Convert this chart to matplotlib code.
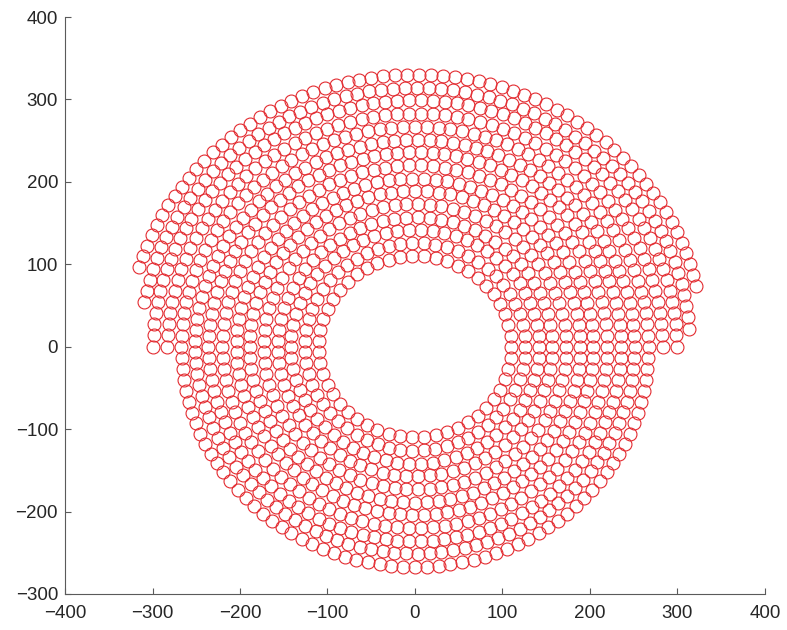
import numpy as np
import matplotlib
matplotlib.use("Agg")
import matplotlib.pyplot as plt

# anillos concentricos de circulos
ring_radius = [110, 126, 142, 157, 173, 189, 204, 220, 236, 251, 267, 283, 299, 314, 330]
ring_count = [51, 59, 66, 73, 81, 88, 95, 102, 110, 117, 124, 66, 70, 67, 64]
ring_start = [0, 0, 0, 0, 0, 0, 0, 0, 0, 0, 0, 0, 0, 4, 13]        # grados
ring_end = [360, 360, 360, 360, 360, 360, 360, 360, 360, 360, 360, 180, 180, 170, 163]

xs = []
ys = []
for r, n, a0, a1 in zip(ring_radius, ring_count, ring_start, ring_end):
    if a1 - a0 >= 360:
        ang = np.deg2rad(a0 + np.arange(n) * (a1 - a0) / n)
    else:
        ang = np.deg2rad(np.linspace(a0, a1, n))
    xs.extend(r * np.cos(ang))
    ys.extend(r * np.sin(ang))

plt.rcParams['font.family'] = ['Liberation Sans', 'DejaVu Sans']

fig = plt.figure(figsize=(7.87, 6.30), dpi=100)
ax = fig.add_axes([65 / 787, 1 - 594 / 630, 700 / 787, 577 / 630])
ax.plot(xs, ys, 'o', color='#e32b30', markerfacecolor='none', markersize=9.3, markeredgewidth=0.8)

ax.set_xlim(-400, 400)
ax.set_ylim(-300, 400)
ax.set_xticks(np.arange(-400, 401, 100))
ax.set_yticks(np.arange(-300, 401, 100))
for s in ['top', 'right']:
    ax.spines[s].set_visible(False)
for s in ['left', 'bottom']:
    ax.spines[s].set_color('#5a5a5a')
    ax.spines[s].set_linewidth(0.8)
ax.tick_params(direction='in', length=4, width=0.8, color='#5a5a5a', labelcolor='#262626',
               labelsize=13.5, pad=5)
ax.tick_params(axis='x', pad=8)

fig.savefig('out.png', dpi=100)
